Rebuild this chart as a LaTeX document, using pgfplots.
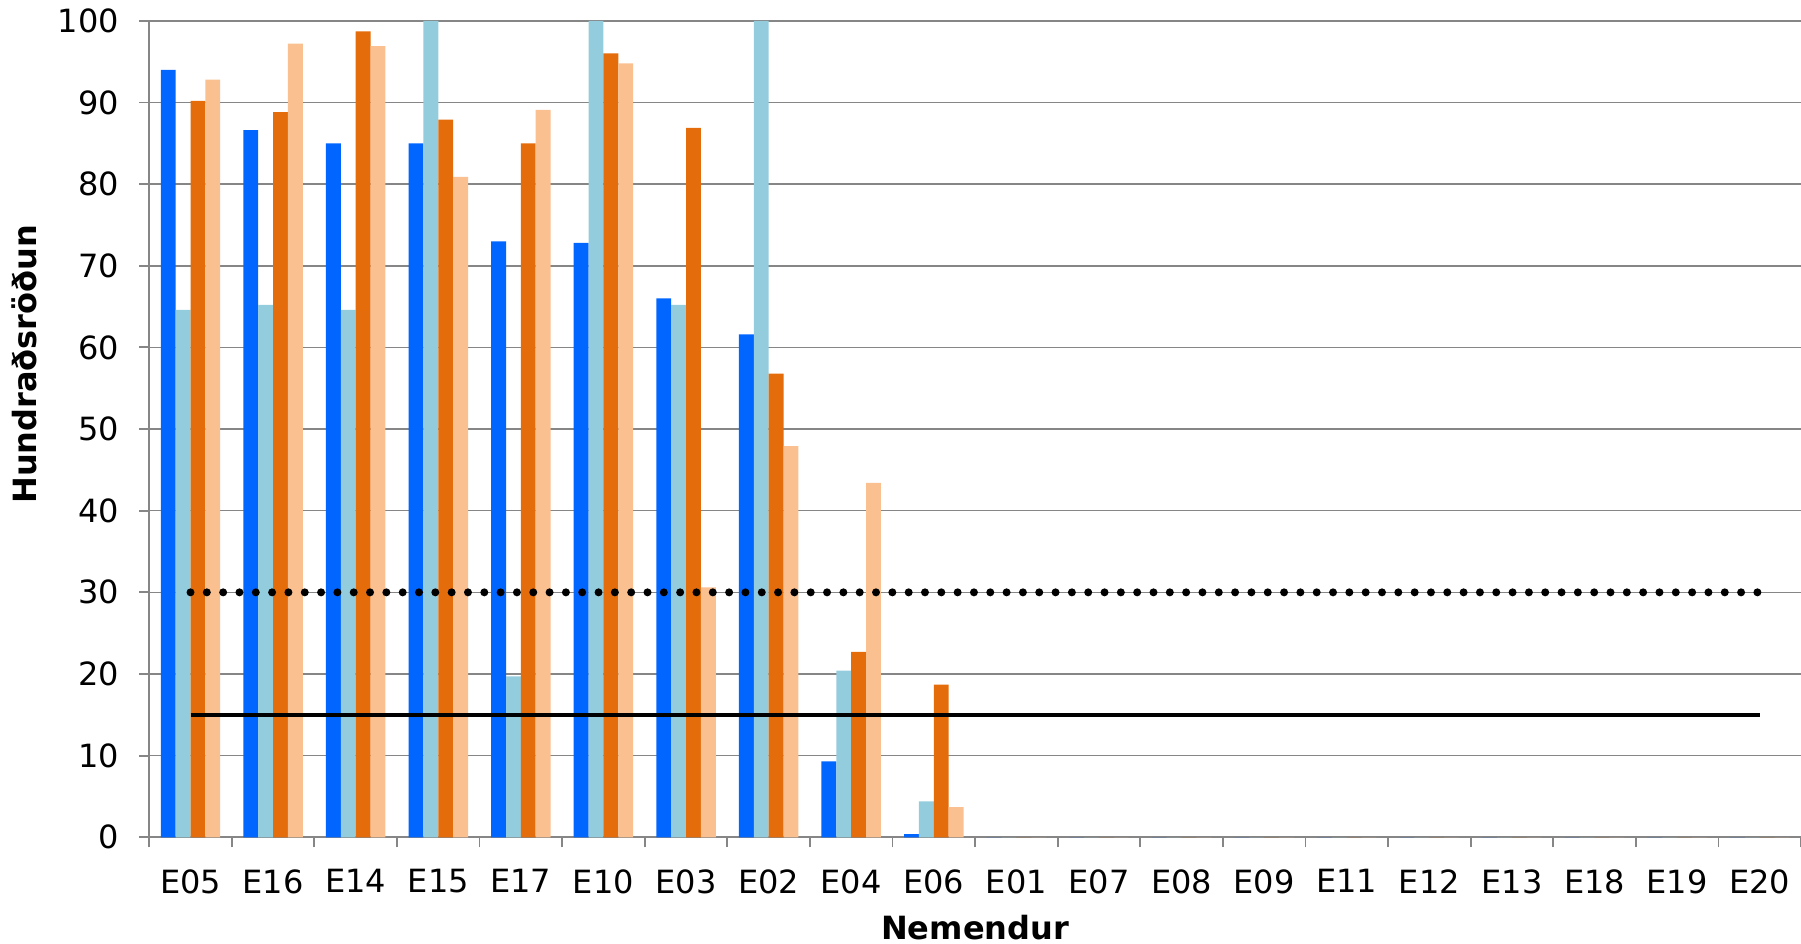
\documentclass[border=0pt]{standalone}
\usepackage{fontspec}
\setmainfont{DejaVu Sans}
\usepackage{pgfplots}
\usepackage{pgfplotstable}
\pgfplotsset{compat=1.18}
\definecolor{cblue}{RGB}{0,102,255}
\definecolor{clblue}{RGB}{147,205,221}
\definecolor{corange}{RGB}{228,108,10}
\definecolor{cpeach}{RGB}{250,192,144}
\definecolor{cgrid}{RGB}{134,134,134}
\pgfplotstableread{
x a b c d
0 94.0 64.6 90.2 92.8
1 86.6 65.2 88.8 97.2
2 85.0 64.6 98.7 96.9
3 85.0 100 87.9 80.9
4 73.0 19.7 85.0 89.1
5 72.8 100 96.0 94.8
6 66.0 65.2 86.9 30.6
7 61.6 100 56.8 47.9
8 9.3 20.4 22.7 43.4
9 0.4 4.4 18.7 3.7
10 0 0 0 0
11 0 0 0 0
12 0 0 0 0
13 0 0 0 0
14 0 0 0 0
15 0 0 0 0
16 0 0 0 0
17 0 0 0 0
18 0 0 0 0
19 0 0 0 0
}\data
\begin{document}
\begin{tikzpicture}
\begin{axis}[
  name=ax,
  scale only axis,
  width=412.9pt, height=204.1pt,
  xmin=-0.5, xmax=19.5, ymin=0, ymax=100,
  axis lines*=left,
  axis line style={-, draw=cgrid, line width=0.45pt},
  tick align=outside,
  major tick length=2.5pt,
  tick style={draw=cgrid, line width=0.45pt},
  xtick={-0.5,0.5,1.5,2.5,3.5,4.5,5.5,6.5,7.5,8.5,9.5,10.5,11.5,12.5,13.5,14.5,15.5,16.5,17.5,18.5,19.5},
  x tick label as interval,
  xticklabels={E05,E16,E14,E15,E17,E10,E03,E02,E04,E06,E01,E07,E08,E09,E11,E12,E13,E18,E19,E20},
  ytick={0,10,...,100},
  ymajorgrids,
  major grid style={draw=cgrid, line width=0.4pt},
  /pgf/number format/assume math mode=true,
  ticklabel style={font=\fontsize{8}{9.6}\selectfont},
  xticklabel style={anchor=north, yshift=-2pt},
  yticklabel style={anchor=east, xshift=-1.5pt},
  xlabel={Nemendur},
  ylabel={Hundraðsröðun},
  xlabel style={font=\fontsize{8}{9.6}\selectfont\bfseries, at={(axis description cs:0.5,0)}, anchor=center, yshift=-22.6pt},
  ylabel style={font=\fontsize{8}{9.6}\selectfont\bfseries, at={(axis description cs:-0.0753,0.5794)}, anchor=center, rotate=0},
  clip=false,
]
\addplot[ybar, bar width=0.18, bar shift=-0.27, fill=cblue, draw=none] table[x=x,y=a]{\data};
\addplot[ybar, bar width=0.18, bar shift=-0.09, fill=clblue, draw=none] table[x=x,y=b]{\data};
\addplot[ybar, bar width=0.18, bar shift=0.09, fill=corange, draw=none] table[x=x,y=c]{\data};
\addplot[ybar, bar width=0.18, bar shift=0.27, fill=cpeach, draw=none] table[x=x,y=d]{\data};
\addplot[sharp plot, black, line width=2pt, line cap=round, dash pattern=on 0pt off 4.08pt, mark=none] coordinates {(0,30) (19,30)};
\addplot[sharp plot, black, line width=0.9pt, mark=none] coordinates {(0,15) (19,15)};
\end{axis}
\pgfresetboundingbox
\path ([xshift=-37.3pt,yshift=-26.5pt]ax.south west) rectangle ([yshift=5.2pt]ax.north east);
\end{tikzpicture}
\end{document}
